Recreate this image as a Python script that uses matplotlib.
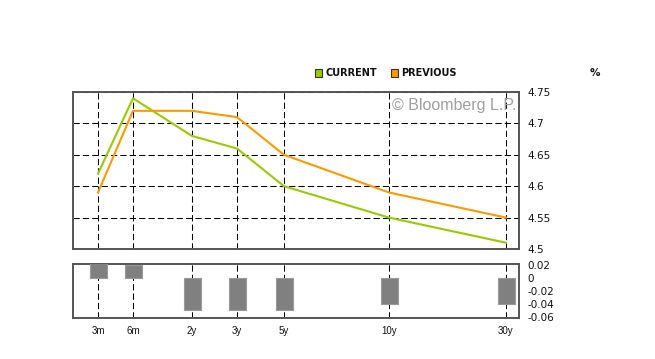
import matplotlib.pyplot as plt

# tenors and yields (%)
tenors = ['3m', '6m', '2y', '3y', '5y', '10y', '30y']
current = [4.62, 4.74, 4.68, 4.66, 4.60, 4.55, 4.51]
previous = [4.59, 4.72, 4.72, 4.71, 4.65, 4.59, 4.55]
change = [0.03, 0.02, -0.05, -0.05, -0.05, -0.04, -0.04]

# the x axis is not evenly spaced; where each tenor sits on it
tenor_x = [25, 60, 119, 164, 211, 316, 433]
x_range = (0, 446)

top_ticks = [4.5, 4.55, 4.6, 4.65, 4.7, 4.75]
top_labels = ['4.5', '4.55', '4.6', '4.65', '4.7', '4.75']
bot_ticks = [0.02, 0, -0.02, -0.04, -0.06]
bot_labels = ['0.02', '0', '-0.02', '-0.04', '-0.06']

green = '#99cc00'
orange = '#ff9900'
frame = '#555555'

plt.rcParams['font.family'] = ['Liberation Sans', 'DejaVu Sans']

fig = plt.figure(figsize=(6.55, 3.59), dpi=100)
W, H = 655, 359


def px_axes(left, top, right, bottom):
    return fig.add_axes([left / W, 1 - bottom / H, (right - left) / W, (bottom - top) / H])


def style(ax):
    for s in ax.spines.values():
        s.set_color(frame)
        s.set_linewidth(1.4)
    ax.yaxis.tick_right()
    ax.tick_params(axis='y', length=0, pad=6, labelsize=7.5, labelcolor='#111111')
    ax.tick_params(axis='x', length=0, pad=6, labelsize=7, labelcolor='#111111')
    ax.set_xlim(*x_range)
    ax.set_xticks(tenor_x)
    ax.grid(True, color='black', linewidth=0.75, linestyle=(0, (6, 3)))
    ax.set_axisbelow(True)


def right_labels(ax, labels):
    ax.set_yticklabels(labels)
    for lab in ax.get_yticklabels():
        lab.set_horizontalalignment('left')
        lab.set_family('DejaVu Sans')


# yield curve panel
ax = px_axes(73, 92, 519, 249)
style(ax)
ax.plot(tenor_x, current, color=green, lw=1.5)
ax.plot(tenor_x, previous, color=orange, lw=1.5)
ax.set_ylim(4.5, 4.75)
ax.set_yticks(top_ticks)
right_labels(ax, top_labels)
ax.set_xticklabels([])
ax.text(0.995, 0.915, '\u00a9 Bloomberg L.P.', transform=ax.transAxes,
        ha='right', va='center', fontsize=11.5, color='#a0a0a0')

# change panel
ax2 = px_axes(73, 264, 519, 318)
style(ax2)
ax2.bar(tenor_x, change, width=17, color='#808080', edgecolor='#9a9a9a', linewidth=0.8, zorder=3)
ax2.set_ylim(-0.062, 0.021)
ax2.set_yticks(bot_ticks)
right_labels(ax2, bot_labels)
ax2.set_xticklabels(tenors)
ax2.set_yticks([0, -0.02, -0.04], minor=True)
ax2.yaxis.grid(False, which='major')
ax2.yaxis.grid(True, which='minor', color='black', linewidth=0.75, linestyle=(0, (6, 3)))
ax2.tick_params(axis='y', which='minor', length=0)

# legend drawn in figure pixels
for x0, col, name in [(315, green, 'CURRENT'), (391, orange, 'PREVIOUS')]:
    fig.patches.append(plt.Rectangle((x0 / W, 1 - 76.5 / H), 7 / W, 8 / H,
                                     transform=fig.transFigure, facecolor=col,
                                     edgecolor='#333333', linewidth=0.8))
    fig.text((x0 + 10) / W, 1 - 72.5 / H, name, fontsize=7, fontweight='bold',
             family='DejaVu Sans', color='#111111', va='center', ha='left')
fig.text(595 / W, 1 - 73.5 / H, '%', fontsize=7.5, fontweight='bold',
         family='DejaVu Sans', color='#111111', va='center', ha='center')

fig.savefig('out.png', dpi=100)
